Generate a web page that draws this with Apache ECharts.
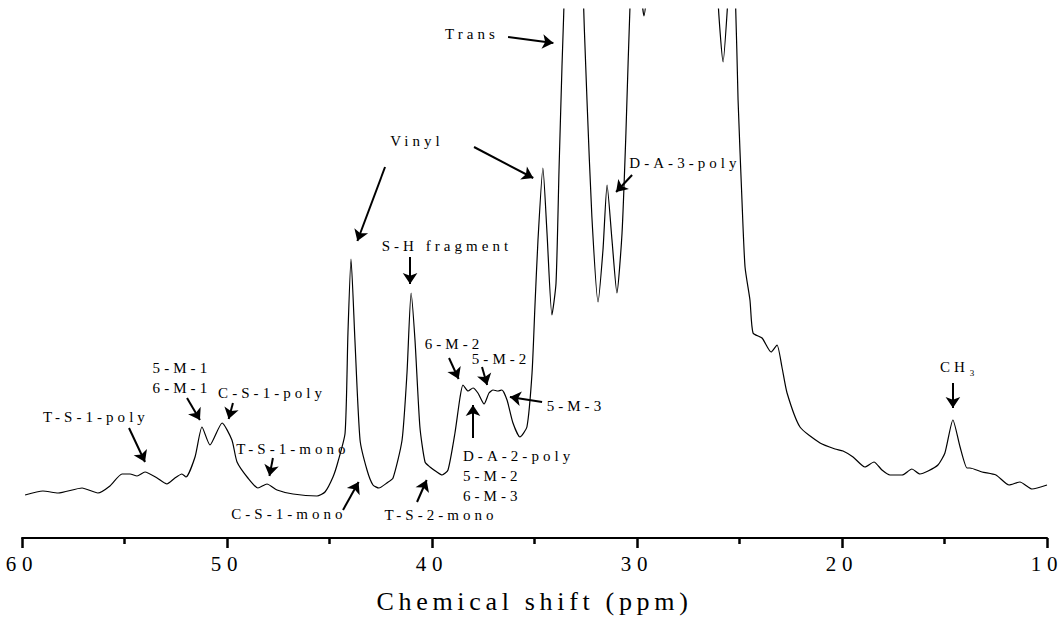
<!DOCTYPE html>
<html>
<head>
<meta charset="utf-8">
<script src="https://cdn.jsdelivr.net/npm/echarts@6/dist/echarts.min.js"></script>
<style>
  html, body { margin: 0; padding: 0; background: #fff; }
  #chart { width: 1064px; height: 621px; }
  /* the original figure uses widely spaced serif lettering */
  #chart text { letter-spacing: 0.27em; }
  #chart text[style*="26px"] { letter-spacing: 0.18em; }
</style>
</head>
<body>
<div id="chart"></div>
<script>
// spectrum trace (chemical shift in ppm, intensity in arbitrary units)
const shiftPpm = [
  59.85, 58.98, 58.24, 57.07, 56.30, 55.71, 55.12, 54.73, 54.39, 54.00,
  53.41, 52.93, 52.54, 52.20, 52.00, 51.56, 51.22, 50.83, 50.24, 49.76,
  49.51, 48.98, 48.49, 48.05, 47.56, 46.78, 45.61, 45.22, 44.83, 44.59,
  44.24, 44.10, 43.95, 43.76, 43.51, 43.17, 42.88, 42.59, 42.20, 41.90,
  41.46, 41.22, 41.02, 40.83, 40.59, 40.34, 40.10, 39.76, 39.51, 39.22,
  38.88, 38.63, 38.49, 38.24, 38.00, 37.76, 37.46, 37.22, 37.02, 36.78,
  36.59, 36.34, 36.05, 35.71, 35.37, 35.12, 34.98, 34.83, 34.59, 34.39,
  34.15, 33.95, 33.80, 33.66, 33.51, 33.12, 32.68, 32.44, 32.20, 31.90,
  31.66, 31.46, 31.22, 30.98, 30.73, 30.54, 30.32, 30.05, 29.85, 29.66,
  29.46, 27.80, 26.05, 25.80, 25.56, 25.40, 25.20, 25.07, 24.88, 24.73,
  24.49, 24.34, 23.90, 23.46, 23.17, 22.93, 22.68, 22.05, 21.07, 20.34,
  19.95, 19.46, 18.88, 18.44, 18.05, 17.66, 17.07, 16.59, 16.20, 15.80,
  15.32, 14.98, 14.59, 14.24, 13.90, 13.76, 13.17, 12.49, 11.85, 11.32,
  10.73, 10.00
];
const intensity = [
  43, 47, 45, 50, 45, 52, 64, 64, 62, 66,
  60, 54, 60, 64, 61, 81, 111, 93, 115, 98,
  76, 60, 50, 54, 48, 44, 42, 46, 61, 76,
  105, 205, 279, 198, 98, 68, 53, 50, 55, 60,
  98, 165, 245, 198, 111, 76, 71, 66, 63, 68,
  105, 141, 153, 147, 150, 145, 134, 145, 148, 147,
  148, 138, 115, 101, 111, 165, 231, 298, 370, 305,
  223, 255, 371, 471, 570, 1100, 580, 438, 321, 236,
  288, 353, 298, 245, 305, 405, 545, 640, 560, 522,
  560, 1800, 540, 476, 540, 600, 540, 438, 338, 271,
  238, 205, 200, 186, 193, 171, 145, 111, 95, 89,
  87, 81, 71, 76, 68, 63, 63, 69, 64, 67,
  73, 85, 118, 91, 70, 70, 66, 63, 53, 56,
  49, 53
];

// x axis ticks
const axisMin = 10;
const axisMax = 60;
const axisStep = 10;

// peak assignments: text, anchor [ppm, intensity]
const noteText = [
  'T-S-1-poly', '5-M-1\n6-M-1', 'C-S-1-poly', 'T-S-1-mono', 'C-S-1-mono',
  'Vinyl', 'Trans', 'S-H fragment', 'D-A-3-poly', '6-M-2', '5-M-2', '5-M-3',
  'D-A-2-poly\n5-M-2\n6-M-3', 'T-S-2-mono'
];
const notePos = [
  [56.39, 121], [52.20, 160], [47.80, 145], [46.78, 89], [46.98, 24],
  [40.73, 397], [38.05, 504], [39.27, 292], [27.66, 375], [38.93, 194],
  [36.63, 179], [32.98, 132], [38.49, 62], [39.56, 23]
];
const ch3Pos = [15.22, 171];

// arrows: [from, to] in [ppm, intensity]
const arrows = [
  [[54.78, 110], [54.00, 76]],
  [[51.95, 140], [51.32, 118]],
  [[49.71, 135], [49.92, 119]],
  [[47.76, 80], [47.93, 62]],
  [[44.34, 28], [43.58, 56]],
  [[42.29, 371], [43.64, 297]],
  [[37.95, 391], [35.06, 360]],
  [[36.29, 501], [34.08, 495]],
  [[41.07, 281], [41.07, 254]],
  [[30.24, 363], [31.02, 346]],
  [[39.17, 180], [38.70, 159]],
  [[37.56, 171], [37.31, 153]],
  [[34.63, 136], [36.20, 141]],
  [[38.00, 100], [38.00, 133]],
  [[40.73, 36], [40.26, 58]],
  [[14.59, 155], [14.59, 130]]
];

const serif = 'Liberation Serif';

const chart = echarts.init(document.getElementById('chart'), null, { renderer: 'svg' });

const markPoints = noteText.map((t, i) => ({
  coord: notePos[i],
  label: {
    formatter: t,
    align: t.startsWith('D-A-2') ? 'left' : 'center'
  }
}));
markPoints.push({
  coord: ch3Pos,
  label: {
    formatter: '{a|CH}{b|3}',
    align: 'left',
    rich: {
      a: { fontSize: 15, fontFamily: serif, color: '#000' },
      b: { fontSize: 9, fontFamily: serif, color: '#000', verticalAlign: 'bottom', padding: [0, 0, 0, 9] }
    }
  }
});

const option = {
  animation: false,
  backgroundColor: '#fff',
  grid: {
    left: 22,
    right: 17,
    top: 9,
    bottom: 83,
    outerBoundsMode: 'none'
  },
  xAxis: {
    type: 'value',
    min: axisMin,
    max: axisMax,
    interval: axisStep,
    inverse: true,
    name: 'Chemical shift (ppm)',
    nameLocation: 'middle',
    nameGap: 50,
    nameTextStyle: {
      fontFamily: serif,
      fontSize: 26,
      color: '#000'
    },
    axisLine: {
      lineStyle: { color: '#000', width: 2 }
    },
    axisTick: {
      inside: false,
      length: 10,
      lineStyle: { color: '#000', width: 2.5 }
    },
    minorTick: {
      show: true,
      splitNumber: 2,
      length: 6,
      lineStyle: { color: '#000', width: 2.5 }
    },
    splitLine: { show: false },
    axisLabel: {
      fontFamily: serif,
      fontSize: 21,
      color: '#000',
      margin: 15
    }
  },
  yAxis: {
    type: 'value',
    min: 0,
    max: 529,
    show: false
  },
  series: [
    {
      type: 'line',
      data: shiftPpm.map((p, i) => [p, intensity[i]]),
      showSymbol: false,
      smooth: 0.2,
      clip: true,
      lineStyle: { color: '#000', width: 1.2 },
      markPoint: {
        silent: true,
        symbol: 'circle',
        symbolSize: 1,
        itemStyle: { color: 'rgba(0,0,0,0)' },
        label: {
          show: true,
          position: 'inside',
          fontFamily: serif,
          fontSize: 15,
          lineHeight: 20,
          color: '#000'
        },
        data: markPoints
      },
      markLine: {
        silent: true,
        symbol: ['none', 'arrow'],
        symbolSize: 11,
        label: { show: false },
        lineStyle: { color: '#000', width: 2, type: 'solid' },
        itemStyle: { color: '#000' },
        emphasis: { disabled: true },
        data: arrows.map(a => [{ coord: a[0] }, { coord: a[1] }])
      }
    }
  ]
};

chart.setOption(option);
</script>
</body>
</html>
